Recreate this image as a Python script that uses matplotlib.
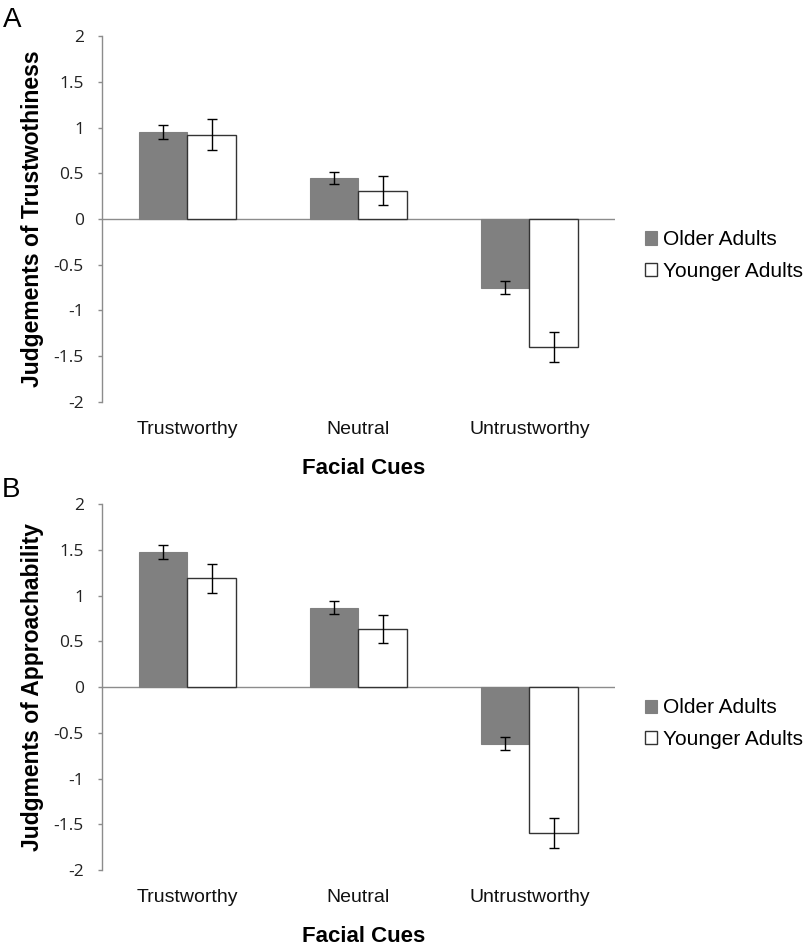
import numpy as np
import matplotlib
matplotlib.use("Agg")
import matplotlib.pyplot as plt

# данные
cues = ["Trustworthy", "Neutral", "Untrustworthy"]
groups = ["Older Adults", "Younger Adults"]

trust_older = [0.95, 0.45, -0.75]
trust_older_err = [0.075, 0.068, 0.072]
trust_younger = [0.92, 0.31, -1.40]
trust_younger_err = [0.17, 0.155, 0.16]

appr_older = [1.48, 0.87, -0.62]
appr_older_err = [0.075, 0.068, 0.07]
appr_younger = [1.19, 0.635, -1.595]
appr_younger_err = [0.16, 0.15, 0.165]

yticks = [2, 1.5, 1, 0.5, 0, -0.5, -1, -1.5, -2]
ytick_labels = ["2", "1.5", "1", "0.5", "0", "-0.5", "-1", "-1.5", "-2"]

fig = plt.figure(figsize=(8.05, 9.5), dpi=100)
ax_a = fig.add_axes([0.1267, 0.577, 0.637, 0.385])
ax_b = fig.add_axes([0.1267, 0.0842, 0.637, 0.385])

x = np.arange(len(cues))
w = 0.285


def draw(ax, older, older_err, younger, younger_err, ylabel):
    ax.bar(x - w / 2, older, w, color="#808080", edgecolor="#808080",
           linewidth=0.8, label=groups[0])
    ax.bar(x + w / 2, younger, w, color="white", edgecolor="#333333",
           linewidth=1.0, label=groups[1])
    ax.errorbar(x - w / 2, older, yerr=older_err, fmt="none", ecolor="black",
                elinewidth=1.0, capsize=3.5, capthick=1.0)
    ax.errorbar(x + w / 2, younger, yerr=younger_err, fmt="none", ecolor="black",
                elinewidth=1.0, capsize=3.5, capthick=1.0)
    ax.axhline(0, color="#8c8c8c", linewidth=1.0, zorder=0)
    ax.set_xlim(-0.5, 2.5)
    ax.set_ylim(-2, 2)
    ax.set_yticks(yticks)
    ax.set_yticklabels(ytick_labels, fontsize=12.5, color="#222222", family="Open Sans")
    ax.set_xticks(x)
    ax.set_xticklabels(cues, fontsize=14, color="#111111", family="Liberation Sans")
    ax.tick_params(axis="y", length=3, width=1.0, color="#8c8c8c", pad=10)
    ax.tick_params(axis="x", length=0, pad=14)
    for s in ["top", "right", "bottom"]:
        ax.spines[s].set_visible(False)
    ax.spines["left"].set_color("#8c8c8c")
    ax.spines["left"].set_linewidth(1.0)
    ax.set_ylabel(ylabel, fontsize=16.5, fontweight="bold", family="Liberation Sans")
    ax.yaxis.set_label_coords(-0.113, 0.5)
    ax.set_xlabel("Facial Cues", fontsize=16, fontweight="bold", family="Liberation Sans")
    ax.xaxis.set_label_coords(0.51, -0.153)
    ax.legend(loc="center left", bbox_to_anchor=(1.058, 0.40), frameon=False,
              prop={"family": "Liberation Sans", "size": 15},
              handlelength=0.6, handleheight=0.6, handletextpad=0.3,
              labelspacing=0.6, borderaxespad=0.0, borderpad=0.0)


draw(ax_a, trust_older, trust_older_err, trust_younger, trust_younger_err,
     "Judgements of Trustwothiness")
draw(ax_b, appr_older, appr_older_err, appr_younger, appr_younger_err,
     "Judgments of Approachability")

fig.text(3 / 805, 1 - 27 / 950, "A", fontsize=20, family="Liberation Sans",
         ha="left", va="baseline")
fig.text(2 / 805, 1 - 497 / 950, "B", fontsize=20, family="Liberation Sans",
         ha="left", va="baseline")

fig.savefig("out.png", dpi=100)
